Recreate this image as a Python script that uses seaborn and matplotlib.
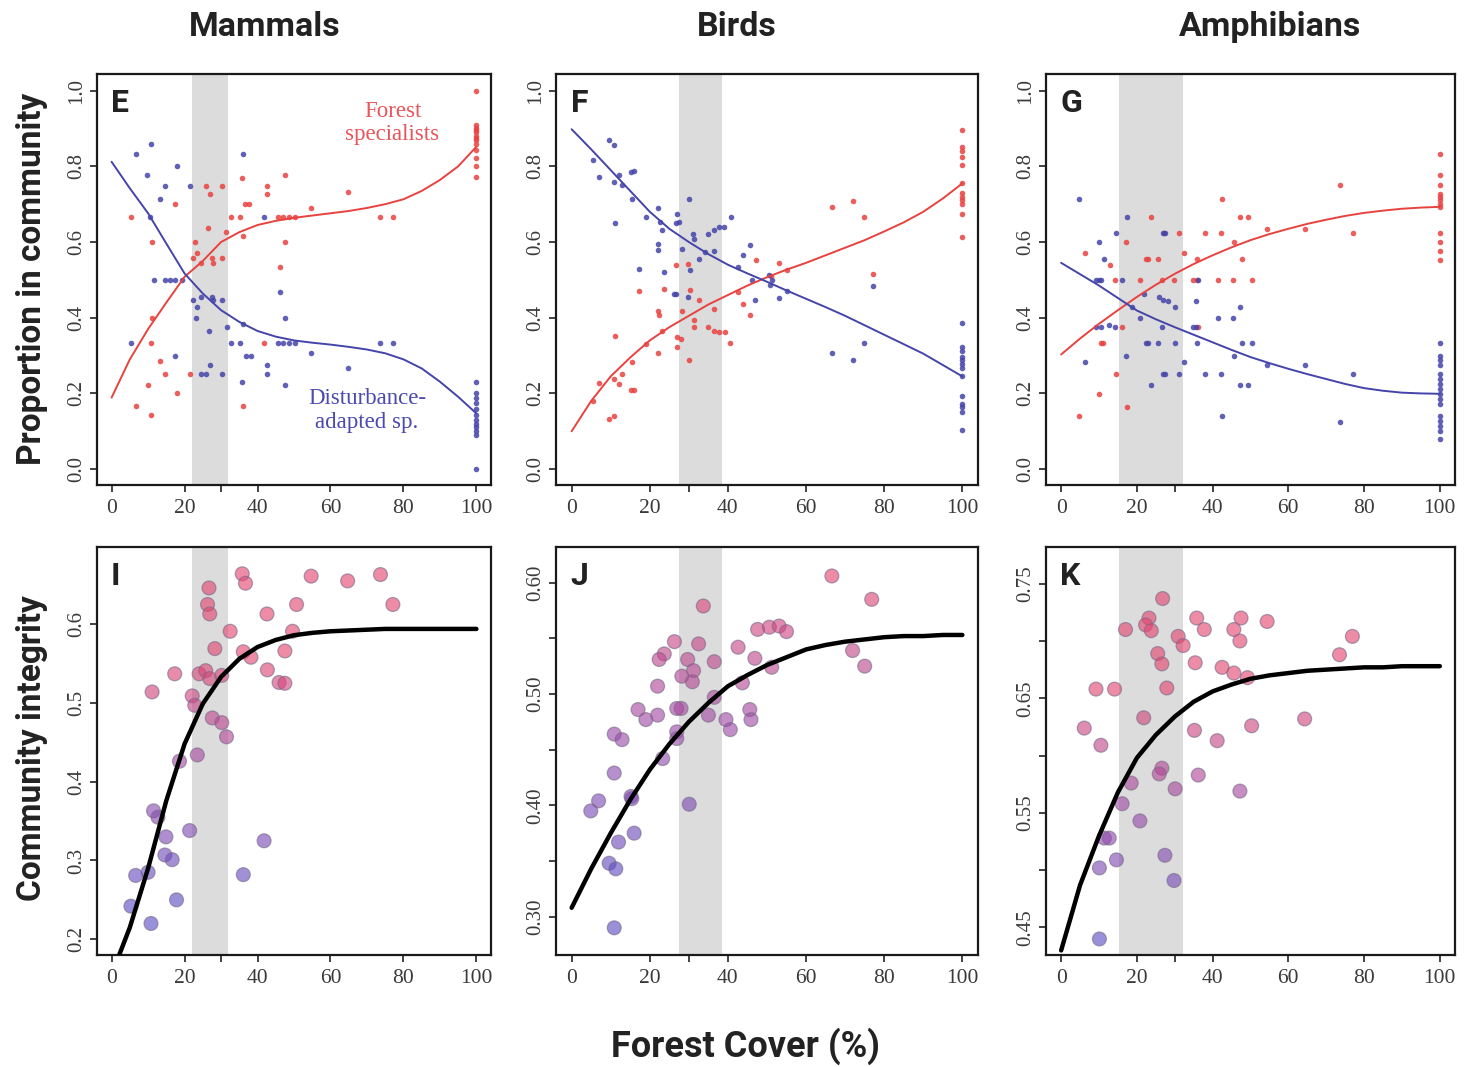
import numpy as np
import pandas as pd
import matplotlib
matplotlib.use("Agg")
import matplotlib.pyplot as plt
import seaborn as sns
from matplotlib.colors import LinearSegmentedColormap

# ---------------- data ----------------
# top row: proportion of forest specialists (red) / disturbance-adapted (blue)
e_spec_x = [100] * 13 + [5.3, 6.6, 10, 10.8, 10.8, 11.2, 11.2, 13.4, 14.7, 17.3, 18, 21.4, 22.3, 22.8, 23.5,
                         24.4, 25.8, 26.5, 27, 27.6, 27.9, 30.2, 30.2, 31.3, 32.7, 35.2, 35.8, 36.1, 36.1, 36.7,
                         37.7, 42.7, 42.7, 41.7, 47.5, 47.5, 46.1, 45.6, 47, 48.5, 50.2, 54.7, 64.7, 73.7, 77.1]
e_spec_y = [1.0, 0.91, 0.90, 0.895, 0.89, 0.88, 0.875, 0.87, 0.86, 0.843, 0.821, 0.80, 0.773,
            0.667, 0.167, 0.222, 0.143, 0.334, 0.601, 0.40, 0.285, 0.251, 0.70, 0.20, 0.251, 0.557, 0.60, 0.57,
            0.545, 0.749, 0.636, 0.727, 0.557, 0.545, 0.749, 0.557, 0.626, 0.667, 0.667, 0.768, 0.617, 0.167, 0.70,
            0.70, 0.749, 0.727, 0.334, 0.776, 0.60, 0.535, 0.667, 0.667, 0.667, 0.667, 0.69, 0.733, 0.667, 0.667]
e_dist_x = [5.3, 6.6, 9.7, 10.8, 10.6, 13.2, 14.7, 17.8, 17.3, 11.5, 14.7, 16.1, 17.5, 19.4, 21.4, 22.3, 23.5,
            24.6, 23, 27.4, 27.9, 30.4, 26.7, 24.4, 26, 26.9, 30.4, 31.5, 32.7, 35.2, 36.1, 36.1, 35.8, 36.9,
            38.2, 41.7, 42.7, 42.7, 47.5, 46.1, 47.5, 45.6, 47, 48.5, 50.2, 54.7, 64.7, 73.7, 77.1] + [100] * 12
e_dist_y = [0.334, 0.833, 0.777, 0.858, 0.667, 0.715, 0.749, 0.80, 0.30, 0.5, 0.5, 0.5, 0.5, 0.5, 0.749, 0.447,
            0.429, 0.455, 0.40, 0.455, 0.447, 0.447, 0.366, 0.251, 0.251, 0.275, 0.251, 0.376, 0.334, 0.334,
            0.833, 0.383, 0.231, 0.30, 0.30, 0.667, 0.275, 0.251, 0.40, 0.467, 0.222, 0.334, 0.334, 0.334,
            0.334, 0.307, 0.268, 0.334, 0.334,
            0.231, 0.20, 0.187, 0.174, 0.16, 0.143, 0.13, 0.12, 0.11, 0.10, 0.09, 0.0]

f_spec_x = [5.4, 6.9, 9.6, 10.9, 11.2, 10.9, 12.2, 13, 15.2, 16, 15.4, 17.3, 19, 22.2, 22.4, 22.2, 23.1, 23.7,
            26.7, 29.7, 26.9, 28, 26.9, 28.2, 30.1, 30.3, 31.2, 31.4, 32.5, 36.5, 35, 36.5, 37.8, 39.3, 40.6,
            42.6, 43.9, 45.7, 47.1, 51, 53.1, 55.1, 66.6, 72, 74.8, 77] + [100] * 12
f_spec_y = [0.181, 0.227, 0.132, 0.141, 0.353, 0.238, 0.225, 0.252, 0.209, 0.209, 0.284, 0.47, 0.331, 0.419,
            0.406, 0.306, 0.366, 0.477, 0.538, 0.543, 0.349, 0.344, 0.322, 0.417, 0.287, 0.472, 0.375, 0.393,
            0.446, 0.424, 0.375, 0.366, 0.362, 0.362, 0.333, 0.468, 0.435, 0.406, 0.553, 0.509, 0.545, 0.527,
            0.693, 0.709, 0.666, 0.516,
            0.896, 0.85, 0.84, 0.825, 0.803, 0.755, 0.73, 0.72, 0.71, 0.70, 0.675, 0.612]
f_dist_x = [5.4, 6.9, 9.6, 10.9, 11.2, 10.9, 12.2, 13, 15.2, 16, 15.4, 17.3, 19, 22.2, 22.7, 23.1, 22.2, 22.2,
            23.7, 26.3, 26.7, 26.9, 26.7, 27.5, 28.2, 30.1, 29.7, 30.3, 31.1, 31.4, 32.5, 34.1, 35, 36.5, 37.8,
            39, 36.5, 40.8, 42.6, 43.9, 45.7, 46.1, 46.9, 50.6, 51.4, 50.7, 53.1, 55.1, 66.6, 72, 74.8,
            77] + [100] * 13
f_dist_y = [0.818, 0.772, 0.869, 0.856, 0.649, 0.759, 0.777, 0.75, 0.786, 0.787, 0.715, 0.528, 0.666, 0.691,
            0.653, 0.631, 0.596, 0.578, 0.522, 0.463, 0.463, 0.675, 0.65, 0.653, 0.582, 0.715, 0.456, 0.525,
            0.622, 0.609, 0.556, 0.574, 0.622, 0.631, 0.64, 0.64, 0.575, 0.666, 0.534, 0.565, 0.591, 0.499,
            0.446, 0.514, 0.50, 0.487, 0.452, 0.47, 0.306, 0.289, 0.333, 0.483,
            0.387, 0.322, 0.313, 0.297, 0.287, 0.278, 0.267, 0.247, 0.194, 0.172, 0.163, 0.15, 0.104]

g_spec_x = [4.8, 6.3, 10.1, 10.5, 11.1, 12.8, 14.1, 14.6, 16.1, 17, 17.4, 20.8, 22.3, 22.9, 25.5, 23.8, 26.6,
            27.2, 29.8, 31.1, 32.4, 34.9, 36, 36.2, 35.9, 37.9, 41.4, 42.2, 42.6, 45.5, 45.6, 47.2, 49.3, 47.8,
            50.3, 54.4, 64.3, 73.6, 77.1] + [100] * 12
g_spec_y = [0.141, 0.571, 0.199, 0.333, 0.333, 0.538, 0.50, 0.25, 0.375, 0.60, 0.165, 0.50, 0.556, 0.556,
            0.556, 0.666, 0.50, 0.624, 0.50, 0.624, 0.571, 0.50, 0.50, 0.375, 0.556, 0.624, 0.50, 0.624, 0.713,
            0.50, 0.60, 0.666, 0.666, 0.556, 0.50, 0.635, 0.635, 0.75, 0.624,
            0.832, 0.777, 0.75, 0.728, 0.719, 0.71, 0.70, 0.693, 0.624, 0.60, 0.575, 0.553]
g_dist_x = [4.8, 6.3, 10.1, 9.1, 10.1, 10.5, 11.2, 9.1, 10.5, 12.7, 14.1, 14.6, 16.1, 17.4, 17.1, 18.7, 20.8,
            21.8, 22.3, 22.9, 25.5, 23.8, 26.6, 25.9, 27, 28.1, 27, 27.5, 26.8, 27.5, 30, 30, 31.1, 32.4, 34.9,
            35.5, 35.6, 36.2, 36, 37.9, 41.4, 42.2, 42.6, 45.5, 45.6, 47.2, 47.8, 47.2, 49.3, 50.3, 54.4, 64.3,
            73.6, 77.1] + [100] * 16
g_dist_y = [0.713, 0.284, 0.60, 0.50, 0.50, 0.50, 0.554, 0.375, 0.375, 0.382, 0.375, 0.624, 0.50, 0.666,
            0.298, 0.428, 0.399, 0.462, 0.333, 0.333, 0.333, 0.221, 0.375, 0.455, 0.446, 0.444, 0.624, 0.624,
            0.25, 0.25, 0.428, 0.333, 0.25, 0.284, 0.375, 0.375, 0.444, 0.50, 0.333, 0.25, 0.399, 0.25, 0.141,
            0.399, 0.298, 0.428, 0.333, 0.221, 0.221, 0.333, 0.274, 0.274, 0.125, 0.25,
            0.333, 0.30, 0.287, 0.274, 0.252, 0.238, 0.225, 0.212, 0.199, 0.186, 0.173, 0.141, 0.128, 0.115,
            0.102, 0.08]

# fitted curves (read every 5 % forest cover)
curve_x = list(range(0, 101, 5))
e_spec_fit = [0.189, 0.29, 0.37, 0.44, 0.508, 0.55, 0.60, 0.626, 0.645, 0.656, 0.664, 0.670, 0.676, 0.682,
              0.69, 0.70, 0.713, 0.735, 0.764, 0.80, 0.852]
e_dist_fit = [0.812, 0.742, 0.676, 0.596, 0.517, 0.464, 0.42, 0.389, 0.365, 0.35, 0.34, 0.334, 0.329, 0.323,
              0.316, 0.306, 0.29, 0.266, 0.231, 0.191, 0.147]
f_spec_fit = [0.10, 0.18, 0.245, 0.295, 0.34, 0.375, 0.405, 0.435, 0.46, 0.485, 0.507, 0.527, 0.545, 0.565,
              0.585, 0.605, 0.628, 0.652, 0.68, 0.715, 0.755]
f_dist_fit = [0.898, 0.845, 0.79, 0.735, 0.68, 0.635, 0.60, 0.568, 0.54, 0.517, 0.495, 0.472, 0.45, 0.428,
              0.405, 0.38, 0.355, 0.33, 0.305, 0.275, 0.245]
g_spec_fit = [0.303, 0.345, 0.384, 0.42, 0.455, 0.487, 0.516, 0.542, 0.565, 0.586, 0.605, 0.621, 0.635, 0.648,
              0.659, 0.669, 0.677, 0.683, 0.688, 0.691, 0.693]
g_dist_fit = [0.545, 0.515, 0.485, 0.452, 0.419, 0.396, 0.375, 0.355, 0.335, 0.315, 0.296, 0.28, 0.265, 0.251,
              0.238, 0.225, 0.214, 0.207, 0.202, 0.2, 0.199]

# bottom row: community integrity
i_x = [35.8, 36.7, 54.7, 64.7, 73.7, 77.1, 26.7, 26.3, 26.9, 42.6, 50.7, 32.5, 49.6, 28.3, 36.1, 38.2, 47.5,
       17.3, 24, 25.8, 26.9, 30.2, 42.7, 45.9, 47.5, 11.1, 22.1, 22.8, 27.6, 30.2, 31.5, 18.6, 23.5, 11.5, 12.7,
       14.9, 21.4, 41.8, 14.6, 16.6, 6.6, 10, 36.1, 17.8, 5.3, 10.8]
i_y = [0.664, 0.652, 0.661, 0.655, 0.663, 0.625, 0.646, 0.625, 0.613, 0.613, 0.625, 0.591, 0.591, 0.569,
       0.565, 0.558, 0.566, 0.537, 0.537, 0.541, 0.531, 0.535, 0.542, 0.526, 0.525, 0.514, 0.509, 0.497, 0.481,
       0.475, 0.457, 0.426, 0.434, 0.363, 0.355, 0.33, 0.338, 0.325, 0.307, 0.301, 0.281, 0.285, 0.282, 0.25,
       0.242, 0.22]
j_x = [66.6, 76.8, 33.7, 47.6, 50.6, 53.1, 55, 26.3, 32.5, 42.6, 23.7, 22.4, 29.7, 36.5, 46.9, 28.2, 31.2, 30.9,
       51.2, 71.9, 75, 22, 43.7, 36.5, 17, 19, 22, 26.9, 28, 35, 39.5, 40.6, 45.6, 45.9, 10.9, 12.9, 26.9, 26.9,
       23.3, 10.9, 6.9, 4.9, 15.2, 15.4, 30.1, 16, 12, 9.6, 11.3, 10.9]
j_y = [0.606, 0.585, 0.579, 0.558, 0.56, 0.561, 0.556, 0.547, 0.545, 0.542, 0.536, 0.531, 0.531, 0.529, 0.532,
       0.516, 0.521, 0.511, 0.524, 0.539, 0.525, 0.507, 0.51, 0.497, 0.486, 0.477, 0.481, 0.487, 0.487, 0.481,
       0.477, 0.468, 0.486, 0.477, 0.464, 0.459, 0.466, 0.46, 0.442, 0.429, 0.404, 0.395, 0.408, 0.406, 0.401,
       0.375, 0.367, 0.348, 0.343, 0.29]
k_x = [26.8, 23.2, 22.3, 23.8, 17, 35.8, 47.5, 54.4, 37.8, 45.6, 30.9, 32.2, 47.2, 76.9, 25.5, 26.6, 35.4,
       42.5, 45.6, 49.2, 73.5, 9.2, 14.1, 27.9, 6.1, 10.5, 21.8, 35.2, 50.3, 64.3, 41.2, 26.6, 25.9, 36.2, 18.5,
       30.1, 47.2, 16.1, 20.8, 11.4, 12.7, 14.6, 10.1, 27.4, 29.8, 10.1]
k_y = [0.737, 0.72, 0.714, 0.709, 0.71, 0.72, 0.72, 0.717, 0.71, 0.71, 0.704, 0.696, 0.70, 0.704, 0.689, 0.68,
       0.681, 0.677, 0.672, 0.668, 0.688, 0.658, 0.658, 0.659, 0.624, 0.609, 0.633, 0.622, 0.626, 0.632, 0.613,
       0.589, 0.584, 0.583, 0.576, 0.571, 0.569, 0.558, 0.543, 0.528, 0.528, 0.509, 0.502, 0.513, 0.491, 0.44]

i_fit = [0.155, 0.215, 0.29, 0.376, 0.448, 0.499, 0.533, 0.556, 0.571, 0.58, 0.586, 0.589, 0.591, 0.592, 0.593,
         0.594, 0.594, 0.594, 0.594, 0.594, 0.594]
j_fit = [0.308, 0.343, 0.375, 0.405, 0.432, 0.455, 0.475, 0.492, 0.507, 0.517, 0.526, 0.533, 0.540, 0.544,
         0.547, 0.549, 0.551, 0.552, 0.552, 0.553, 0.553]
k_fit = [0.43, 0.487, 0.53, 0.568, 0.598, 0.618, 0.634, 0.647, 0.656, 0.662, 0.667, 0.670, 0.672, 0.674, 0.675,
         0.676, 0.677, 0.677, 0.678, 0.678, 0.678]

# grey band: forest-cover threshold per taxon
bands = {"E": (22, 32), "F": (27.5, 38.5), "G": (15.2, 32.1)}
bands.update({"I": bands["E"], "J": bands["F"], "K": bands["G"]})

# ---------------- style ----------------
sns.set_style("ticks")
cond = "Roboto"
serif = "Liberation Serif"
plt.rcParams["font.family"] = ["DejaVu Sans"]

RED = "#e8423f"
BLUE = "#4444aa"
TXT = "#222222"
cmap = LinearSegmentedColormap.from_list("integ", ["#5a4cc4", "#9a4aa8", "#e4456e"])

W, H = 1477, 1067
fig = plt.figure(figsize=(W / 100, H / 100), dpi=100)


def add_ax(l, r, t, b):
    return fig.add_axes([l / W, 1 - b / H, (r - l) / W, (b - t) / H])


cols = [(97, 491), (556, 978), (1046, 1455)]
top_row = (74, 485)
bot_row = (547, 955)


def style_ax(ax, letter, yticks, ylabels, ylim):
    ax.set_xlim(-4, 104)
    ax.set_ylim(*ylim)
    ax.axvspan(*bands[letter], color="#dcdcdc", lw=0, zorder=0)
    ax.set_xticks([0, 20, 30, 40, 60, 80, 100])
    ax.set_xticklabels(["0", "20", "", "40", "60", "80", "100"], family=serif, fontsize=15.5, color="#3a3a3a")
    ax.set_yticks(yticks)
    ax.set_yticklabels(ylabels, family=serif, fontsize=15, color="#3a3a3a", rotation=90, va="center")
    ax.tick_params(direction="out", length=5, width=1.2, color="#222222")
    ax.tick_params(axis="x", pad=5)
    ax.tick_params(axis="y", pad=3)
    for s in ax.spines.values():
        s.set_visible(True)
        s.set_linewidth(1.6)
        s.set_color("#1a1a1a")
    ax.set_xlabel("")
    ax.set_ylabel("")
    ax.text(0.035, 0.965, letter, transform=ax.transAxes, fontsize=23, fontweight="bold",
            family=cond, va="top", ha="left", color=TXT)


top_data = [
    ("E", e_spec_x, e_spec_y, e_dist_x, e_dist_y, e_spec_fit, e_dist_fit),
    ("F", f_spec_x, f_spec_y, f_dist_x, f_dist_y, f_spec_fit, f_dist_fit),
    ("G", g_spec_x, g_spec_y, g_dist_x, g_dist_y, g_spec_fit, g_dist_fit),
]
top_ticks = [0.0, 0.2, 0.4, 0.6, 0.8, 1.0]
for (l, r), (letter, sx, sy, dx, dy, sfit, dfit) in zip(cols, top_data):
    ax = add_ax(l, r, *top_row)
    sns.scatterplot(x=sx, y=sy, ax=ax, color=RED, s=16, linewidth=0, alpha=0.85, zorder=3)
    sns.scatterplot(x=dx, y=dy, ax=ax, color=BLUE, s=16, linewidth=0, alpha=0.85, zorder=3)
    sns.lineplot(x=curve_x, y=sfit, ax=ax, color=RED, lw=1.4, zorder=4)
    sns.lineplot(x=curve_x, y=dfit, ax=ax, color=BLUE, lw=1.4, zorder=4)
    style_ax(ax, letter, top_ticks, [f"{t:.1f}" for t in top_ticks], (-0.042, 1.044))
    if letter == "E":
        ax.text(77, 0.915, "Forest\nspecialists", color="#e8555a", family=serif, fontsize=16.5,
                ha="center", va="center", linespacing=1.15)
        ax.text(70, 0.155, "Disturbance-\nadapted sp.", color="#4a4ab0", family=serif, fontsize=16.5,
                ha="center", va="center", linespacing=1.15)

bot_data = [
    ("I", i_x, i_y, i_fit, [0.2, 0.3, 0.4, 0.5, 0.6], ["0.2", "0.3", "0.4", "0.5", "0.6"],
     (0.18, 0.698), (0.25, 0.56)),
    ("J", j_x, j_y, j_fit, [0.30, 0.35, 0.40, 0.45, 0.50, 0.55, 0.60],
     ["0.30", "", "0.40", "", "0.50", "", "0.60"], (0.2656, 0.632), (0.33, 0.60)),
    ("K", k_x, k_y, k_fit, [0.45, 0.50, 0.55, 0.60, 0.65, 0.70, 0.75],
     ["0.45", "", "0.55", "", "0.65", "", "0.75"], (0.426, 0.782), (0.44, 0.66)),
]
for (l, r), (letter, x, y, fit, yt, yl, ylim, hnorm) in zip(cols, bot_data):
    ax = add_ax(l, r, *bot_row)
    df = pd.DataFrame({"cover": x, "integrity": y})
    sns.scatterplot(data=df, x="cover", y="integrity", hue="integrity", hue_norm=hnorm, palette=cmap,
                    ax=ax, s=100, linewidth=0.9, edgecolor="#7a6a8a", alpha=0.62, legend=False, zorder=3)
    sns.lineplot(x=curve_x, y=fit, ax=ax, color="black", lw=3.2, zorder=4)
    style_ax(ax, letter, yt, yl, ylim)

# ---------------- figure texts ----------------
for cx, title in zip([265, 737, 1270], ["Mammals", "Birds", "Amphibians"]):
    fig.text(cx / W, 1 - 27 / H, title, fontsize=24.5, fontweight="bold", family=cond,
             ha="center", va="center", color=TXT)
fig.text(32 / W, 1 - 279 / H, "Proportion in community", rotation=90, fontsize=24, fontweight="bold",
         family=cond, ha="center", va="center", color=TXT)
fig.text(32 / W, 1 - 748 / H, "Community integrity", rotation=90, fontsize=24, fontweight="bold",
         family=cond, ha="center", va="center", color=TXT)
fig.text(746 / W, 1 - 1046 / H, "Forest Cover (%)", fontsize=26, fontweight="bold", family=cond,
         ha="center", va="center", color=TXT)

fig.savefig("out.png", dpi=100, facecolor="white")
